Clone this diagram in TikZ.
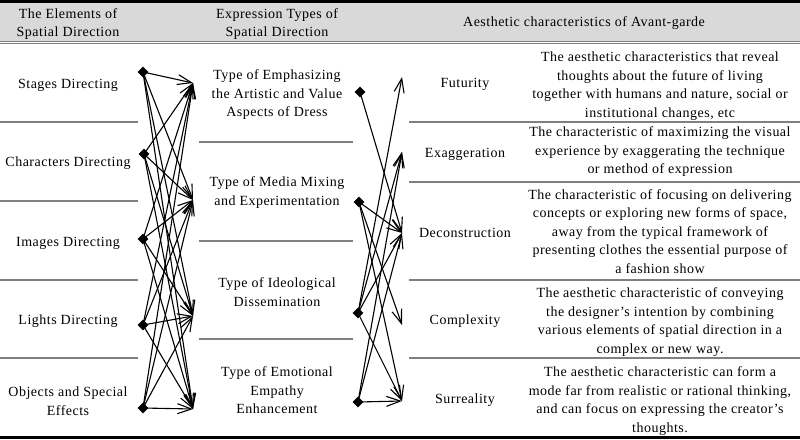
\documentclass[tikz,border=0pt]{standalone}
\usepackage{fontspec}
\setmainfont[LetterSpace=3.5]{Liberation Serif}
\usetikzlibrary{arrows.meta,shapes.geometric}
\definecolor{hdr}{HTML}{D9D9D9}
\definecolor{rulegray}{HTML}{808080}
\begin{document}
\begin{tikzpicture}[x=1pt,y=-1pt,
  txt/.style={align=center,font=\fontsize{14}{18.5}\selectfont,inner sep=0pt},
  sepline/.style={draw=rulegray,line width=1.3pt},
  dia/.style={diamond,fill=black,inner sep=0pt,minimum size=11pt},
  conn/.style={-{Straight Barb[length=14pt,width=10pt]},line width=1.1pt}]
\useasboundingbox (0,0) rectangle (800,439);
% header
\fill[hdr] (0,3) rectangle (800,40.7);
\fill[black] (0,0) rectangle (800,2.8);
\fill[black] (0,436) rectangle (800,439);
\draw[rulegray,line width=1pt] (0,41.8) -- (800,41.8);
\draw[rulegray,line width=1.2pt] (0,43.7) -- (800,43.7);
\node[txt] (h1) at (68,24) {The Elements of\\Spatial Direction};
\node[txt] (h2) at (277,24) {Expression Types of\\Spatial Direction};
\node[txt] (h3) at (584,23) {Aesthetic characteristics of Avant-garde};
% separators
\foreach \yy in {122,201,280,358} \draw[sepline] (0,\yy) -- (138,\yy);
\foreach \yy in {142,241,339} \draw[sepline] (199,\yy) -- (353,\yy);
\foreach \yy in {122,182,280,358} \draw[sepline] (409,\yy) -- (800,\yy);
% left column
\node[txt] (e1) at (68,85) {Stages Directing};
\node[txt] (e2) at (68,163) {Characters Directing};
\node[txt] (e3) at (68,243) {Images Directing};
\node[txt] (e4) at (68,321) {Lights Directing};
\node[txt] (e5) at (68,401) {Objects and Special\\Effects};
% middle column
\node[txt] (m1t) at (277,95) {Type of Emphasizing\\the Artistic and Value\\Aspects of Dress};
\node[txt] (m2t) at (277,192.5) {Type of Media Mixing\\and Experimentation};
\node[txt] (m3t) at (277,292) {Type of Ideological\\Dissemination};
\node[txt] (m4t) at (277,390.5) {Type of Emotional\\Empathy\\Enhancement};
% right column
\node[txt] (r1) at (465,84) {Futurity};
\node[txt] (r2) at (465,154) {Exaggeration};
\node[txt] (r3) at (465,233) {Deconstruction};
\node[txt] (r4) at (465,321) {Complexity};
\node[txt] (r5) at (465,400) {Surreality};
% descriptions
\node[txt] (d1) at (660,86.3) {The aesthetic characteristics that reveal\\thoughts about the future of living\\together with humans and nature, social or\\institutional changes, etc};
\node[txt] (d2) at (660,151.7) {The characteristic of maximizing the visual\\experience by exaggerating the technique\\or method of expression};
\node[txt] (d3) at (660,231.5) {The characteristic of focusing on delivering\\concepts or exploring new forms of space,\\away from the typical framework of\\presenting clothes the essential purpose of\\a fashion show};
\node[txt] (d4) at (660,322) {The aesthetic characteristic of conveying\\the designer's intention by combining\\various elements of spatial direction in a\\complex or new way.};
\node[txt] (d5) at (660,401) {The aesthetic characteristic can form a\\mode far from realistic or rational thinking,\\and can focus on expressing the creator's\\thoughts.};
% left diamonds and targets
\node[dia] (L1) at (143,72) {};
\node[dia] (L2) at (144,154) {};
\node[dia] (L3) at (143,239) {};
\node[dia] (L4) at (143,325) {};
\node[dia] (L5) at (143,408) {};
\coordinate (A1) at (193,83);
\coordinate (A2) at (193,200);
\coordinate (A3) at (193,316);
\coordinate (A4) at (193,409);
\foreach \s in {L1,L2,L3,L4,L5}
  \foreach \t in {A1,A2,A3,A4}
    \draw[conn] (\s.center) -- (\t);
% middle diamonds and targets
\node[dia] (M1) at (360,92) {};
\node[dia] (M2) at (359,202) {};
\node[dia] (M3) at (358,313) {};
\node[dia] (M4) at (358,402) {};
\coordinate (B1) at (402,77);
\coordinate (B2) at (402,152);
\coordinate (B3) at (402,233);
\coordinate (B4) at (402,325);
\coordinate (B5) at (402,401);
\draw[conn] (M1.center) -- (B3);
\foreach \t in {B3,B4,B5} \draw[conn] (M2.center) -- (\t);
\foreach \t in {B1,B2,B3,B5} \draw[conn] (M3.center) -- (\t);
\foreach \t in {B2,B3,B5} \draw[conn] (M4.center) -- (\t);
\end{tikzpicture}
\end{document}
